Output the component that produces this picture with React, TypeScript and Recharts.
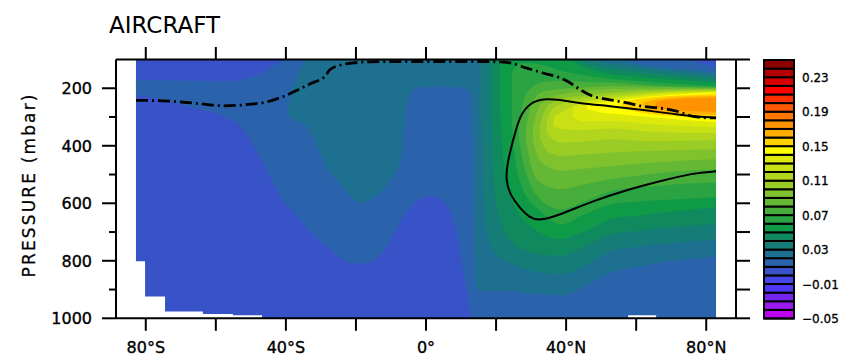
import React from 'react';
import { ComposedChart, Area, Line, XAxis, YAxis, ReferenceArea } from 'recharts';

// ---------- axis ticks ----------
const latTicks = [-80, -60, -40, -20, 0, 20, 40, 60, 80];
const latTickLabels = ['80°S', '', '40°S', '', '0°', '', '40°N', '', '80°N'];
const presTicksLeft = [200, 300, 400, 500, 600, 700, 800, 900, 1000];
const presTickLabels = ['200', '', '400', '', '600', '', '800', '', '1000'];
const presTicksRight = [100, 200, 300, 400, 500, 600, 700, 800, 900, 1000];

// ---------- colour bar ----------
const cbBounds = [-0.05, -0.04, -0.03, -0.02, -0.01, 0, 0.01, 0.02, 0.03, 0.04, 0.05, 0.06, 0.07, 0.08, 0.09, 0.1,
  0.11, 0.12, 0.13, 0.14, 0.15, 0.16, 0.17, 0.18, 0.19, 0.2, 0.21, 0.22, 0.23, 0.24, 0.25];
const cbColors = [
  '#BC00F0', '#9A1AF0', '#7426F0', '#4E38F5', '#4646EA',
  '#3853C8', '#2A63AC', '#1E7090', '#167C78', '#10895E',
  '#0F9A48', '#2AA443', '#48AE3B', '#64B834', '#80C22E',
  '#9ACC26', '#B2D61E', '#C8E014', '#DCE90A', '#FFFF00',
  '#FFD200', '#FFAE00', '#FF9200', '#FF7600', '#FF5800',
  '#FF3000', '#FF0000', '#D80000', '#B40000', '#8C0000',
];
const cbTicks = [-0.05, -0.01, 0.03, 0.07, 0.11, 0.15, 0.19, 0.23];
const cbTickLabels = ['\u22120.05', '\u22120.01', '0.03', '0.07', '0.11', '0.15', '0.19', '0.23'];

// ---------- contour bands: [lat, top pressure, bottom pressure] of region >= level ----------
const band00 = [[-82.8, 100, 1000], [82.8, 100, 1000]];
const band01 = [
  [-82.8, 170, 222], [-75, 172, 240], [-66.6, 174, 267], [-57, 176, 302], [-52, 169, 345],
  [-49.4, 160, 396], [-46, 142, 470], [-43, 118, 545], [-41, 104, 590], [-39, 100, 615],
  [-35, 100, 670], [-31.4, 100, 719], [-28.8, 100, 745], [-25, 100, 785], [-20, 100, 810],
  [-16, 100, 805], [-13, 100, 780], [-10.5, 100, 735], [-8, 100, 680], [-5.3, 100, 625],
  [-2.5, 100, 592], [0.5, 100, 575], [3, 100, 578], [5.5, 100, 600], [7.5, 100, 650],
  [9.2, 100, 730], [11, 100, 860], [12.3, 100, 960], [13, 100, 1000], [40, 100, 1000],
  [74, 100, 1000], [77, 107, 1000], [80, 119, 1000], [82.8, 128, 1000],
];
const band02 = [
  [-39.3, 270, 290], [-38.3, 208, 305], [-36.8, 163, 315], [-35.1, 117, 322], [-33.7, 100, 340],
  [-30, 100, 430], [-28.8, 100, 465], [-24.3, 100, 534], [-21, 100, 580], [-18.6, 100, 597],
  [-15, 100, 580], [-11, 100, 534], [-7.1, 100, 441], [-6.2, 100, 325], [-5.2, 100, 243],
  [-3.4, 100, 203], [0, 100, 195], [5, 100, 194], [10, 100, 197], [12.9, 100, 212],
  [13.4, 100, 350], [13.8, 100, 800], [14.5, 100, 900], [16, 100, 905], [24, 100, 905],
  [30, 100, 915], [38.6, 100, 920], [45, 100, 890], [53, 100, 840], [56, 102, 830],
  [61, 118, 820], [65, 125, 810], [70, 130, 800], [78, 138, 790], [82.8, 147, 785],
];
const band03 = [
  [15.8, 100, 300], [16.5, 100, 620], [17.2, 100, 700], [19, 100, 760], [22, 100, 795],
  [25, 100, 812], [30, 100, 835], [38.6, 100, 847], [45, 100, 820], [49, 105, 790],
  [53, 116, 765], [60, 128, 752], [67, 138, 742], [75, 148, 733], [82.8, 157, 725],
];
const band04 = [
  [18.5, 100, 250], [19.5, 100, 550], [21, 100, 650], [25, 100, 742], [30, 100, 770],
  [38.6, 100, 783], [42, 100, 770], [47, 118, 740], [53, 134, 708], [60, 143, 697],
  [67, 152, 688], [75, 161, 680], [82.8, 170, 672],
];
const band05 = [
  [21, 100, 250], [22.5, 100, 500], [25, 100, 600], [30, 100, 680], [38.6, 100, 725],
  [42, 108, 712], [45, 125, 700], [53, 151, 655], [60, 159, 643], [67, 167, 633],
  [75, 174, 623], [82.8, 181, 613],
];
const band06 = [
  [24.5, 150, 320], [25.5, 125, 450], [28, 112, 560], [33, 118, 630], [38.6, 139, 673],
  [45, 155, 640], [53, 168, 603], [60, 175, 595], [67, 181, 589], [75, 187, 584], [82.8, 193, 578],
];
const band07 = [
  [26.5, 330, 370], [28, 240, 470], [30, 200, 540], [33, 180, 590], [38.6, 174, 621],
  [45, 177, 595], [53, 180, 557], [65, 190, 540], [82.8, 196, 527],
];
const band08 = [
  [28.5, 340, 380], [30, 260, 470], [33, 215, 530], [38.6, 203, 551], [45, 197, 535],
  [53, 192, 516], [65, 195, 497], [82.8, 199, 482],
];
const band09 = [
  [30.5, 340, 380], [32, 270, 440], [35, 235, 475], [38.6, 221, 487], [45, 210, 480],
  [53, 203, 470], [65, 202, 458], [82.8, 202, 447],
];
const band10 = [
  [32.5, 330, 370], [34, 275, 410], [36, 250, 428], [38.6, 238, 435], [45, 225, 430],
  [53, 215, 423], [65, 208, 418], [82.8, 204, 412],
];
const band11 = [
  [34.5, 310, 350], [36, 275, 375], [38.6, 255, 389], [45, 235, 385], [53, 223, 377],
  [65, 213, 384], [82.8, 207, 381],
];
const band12 = [
  [36.5, 300, 330], [38.6, 284, 342], [45, 245, 345], [53, 232, 340], [65, 218, 352], [82.8, 210, 356],
];
const band13 = [[42, 268, 302], [45, 252, 315], [53, 238, 315], [65, 221, 326], [82.8, 211, 336]];
const band14 = [[46, 258, 272], [50, 250, 284], [53, 245, 288], [65, 228, 302], [82.8, 214, 318]];
const band15 = [[56, 250, 268], [60, 238, 282], [65, 231, 291], [75, 224, 298], [82.8, 221, 302]];
const band16 = [[62, 250, 266], [65, 240, 278], [70, 233, 285], [82.8, 227, 292]];
const band17 = [[65.5, 250, 264], [68, 242, 272], [75, 235, 279], [82.8, 233, 282]];

const bands = [band00, band01, band02, band03, band04, band05, band06, band07, band08, band09,
  band10, band11, band12, band13, band14, band15, band16, band17];
const bandColors = cbColors.slice(5);

// ---------- missing data (topography): [lat, pressure of ground] ----------
const topoSouth = [[-83.5, 802], [-80.2, 924], [-74.5, 976], [-63.7, 985], [-55.1, 989.5], [-46.8, 1000]];
const topoNorth = [[57.7, 989], [65.7, 1000]];

// ---------- contour lines: [lat, pressure] ----------
const dashDotLine = [
  [-82.8, 242], [-76.5, 243], [-66.9, 251], [-57.4, 261], [-49.8, 255], [-46, 249], [-41.2, 231],
  [-36.5, 205], [-32.6, 182], [-28.8, 158], [-27.4, 135], [-24.6, 120], [-20.8, 112], [-16, 108],
  [0, 107], [15, 107], [22, 109], [24, 112], [28.8, 130], [33.4, 147], [38.3, 164], [41.1, 181],
  [44, 205], [47.7, 228], [52.5, 240], [57.4, 251], [62, 263], [66.8, 269], [71.6, 280],
  [76.2, 298], [81.1, 303], [82.8, 303],
];
const solidLine = [
  [82.8, 303], [71.6, 292], [62, 275], [52.5, 262], [43.1, 251], [38.3, 240], [33.4, 236],
  [29.7, 251], [26.8, 293], [24.8, 383], [23.1, 467], [22.8, 519], [24, 571], [26.8, 617],
  [29.7, 651], [32.5, 661], [38.3, 640], [47.7, 592], [57.4, 553], [66.8, 523], [76.2, 495], [82.8, 489],
];

const FONT = 'DejaVu Sans';

const toRange = (rows: number[][]) => rows.map(([lat, top, bot]) => ({ lat, r: [top, bot] }));
const toTopo = (rows: number[][]) => rows.map(([lat, p]) => ({ lat, r: [p, 1000] }));
const toLine = (rows: number[][]) => rows.map(([lat, p]) => ({ lat, p }));

const txt = { fontFamily: FONT, fill: '#000', stroke: '#000', strokeWidth: 0.35 };

const BottomTick = (props: any) => {
  const { x, y, payload } = props;
  const label = latTickLabels[latTicks.indexOf(payload.value)];
  return (
    <g>
      <line x1={x} y1={y} x2={x} y2={y + 12.5} stroke="#000" strokeWidth={2} />
      {label ? (
        <text x={x} y={y + 34.5} textAnchor="middle" fontSize={16} {...txt}>{label}</text>
      ) : null}
    </g>
  );
};
const TopTick = (props: any) => {
  const { x, y } = props;
  return <line x1={x} y1={y} x2={x} y2={y - 12.5} stroke="#000" strokeWidth={2} />;
};
const LeftTick = (props: any) => {
  const { x, y, payload } = props;
  const label = presTickLabels[presTicksLeft.indexOf(payload.value)];
  const len = label ? 14 : 7;
  return (
    <g>
      <line x1={x} y1={y} x2={x - len} y2={y} stroke="#000" strokeWidth={2} />
      {label ? (
        <text x={x - 24} y={y + 5.8} textAnchor="end" fontSize={16} {...txt}>{label}</text>
      ) : null}
    </g>
  );
};
const RightTick = (props: any) => {
  const { x, y } = props;
  return <line x1={x} y1={y} x2={x + 14} y2={y} stroke="#000" strokeWidth={2} />;
};
const CbTick = (props: any) => {
  const { x, y, payload } = props;
  const label = cbTickLabels[cbTicks.indexOf(payload.value)];
  return (
    <text x={x + 8} y={y + 4.5} textAnchor="start" fontSize={12} {...txt} strokeWidth={0.3}>{label}</text>
  );
};

const frame = { stroke: '#000', strokeWidth: 2 };

export default function App() {
  return (
    <div style={{ position: 'absolute', left: 0, top: 0, width: 854, height: 357, background: '#fff', overflow: 'hidden' }}>
      <div style={{ position: 'absolute', left: 0, top: 0 }}>
        <ComposedChart width={854} height={357} margin={{ top: 39.5, right: 98, bottom: 8.7, left: 16 }}>
          {bands.map((rows, i) => (
            <Area
              key={'b' + i}
              data={toRange(rows)}
              dataKey="r"
              type={i === 0 ? 'linear' : 'monotone'}
              fill={bandColors[i]}
              fillOpacity={1}
              stroke="none"
              dot={false}
              activeDot={false}
              isAnimationActive={false}
            />
          ))}
          <Area data={toTopo(topoSouth)} dataKey="r" type="stepAfter" fill="#fff" fillOpacity={1} stroke="none"
            dot={false} activeDot={false} isAnimationActive={false} />
          <Area data={toTopo(topoNorth)} dataKey="r" type="stepAfter" fill="#fff" fillOpacity={1} stroke="none"
            dot={false} activeDot={false} isAnimationActive={false} />
          <Line data={toLine(dashDotLine)} dataKey="p" type="monotone" stroke="#000" strokeWidth={2.8}
            strokeDasharray="12 4 2 4" dot={false} activeDot={false} isAnimationActive={false} />
          <Line data={toLine(solidLine)} dataKey="p" type="basis" stroke="#000" strokeWidth={2}
            dot={false} activeDot={false} isAnimationActive={false} />
          <XAxis type="number" dataKey="lat" domain={[-88.5, 88.5]} ticks={latTicks} interval={0}
            height={30} axisLine={frame} tickLine={false} tickSize={0} tickMargin={0} tick={BottomTick} allowDataOverflow />
          <XAxis xAxisId="top" orientation="top" type="number" dataKey="lat" domain={[-88.5, 88.5]} ticks={latTicks}
            interval={0} height={20} axisLine={frame} tickLine={false} tickSize={0} tickMargin={0} tick={TopTick} allowDataOverflow />
          <YAxis type="number" domain={[100, 1000]} reversed ticks={presTicksLeft} interval={0} width={100}
            axisLine={frame} tickLine={false} tickSize={0} tickMargin={0} tick={LeftTick} allowDataOverflow />
          <YAxis yAxisId="right" orientation="right" type="number" domain={[100, 1000]} reversed ticks={presTicksRight}
            interval={0} width={20} axisLine={frame} tickLine={false} tickSize={0} tickMargin={0} tick={RightTick} allowDataOverflow />
        </ComposedChart>
      </div>
      <div style={{ position: 'absolute', left: 750, top: 0 }}>
        <ComposedChart width={100} height={357} margin={{ top: 60, right: 6, bottom: 38.5, left: 14 }}>
          {cbColors.map((c, i) => (
            <Area
              key={'cb' + i}
              data={[{ x: 0, r: [cbBounds[i], cbBounds[i + 1]] }, { x: 1, r: [cbBounds[i], cbBounds[i + 1]] }]}
              dataKey="r"
              type="linear"
              fill={c}
              fillOpacity={1}
              stroke="#000"
              strokeWidth={2}
              dot={false}
              activeDot={false}
              isAnimationActive={false}
            />
          ))}
          <ReferenceArea x1={0} x2={1} y1={-0.05} y2={0.25} fill="none" stroke="#000" strokeWidth={2} ifOverflow="visible" />
          <XAxis type="number" dataKey="x" domain={[0, 1]} hide />
          <YAxis type="number" orientation="right" domain={[-0.05, 0.25]} ticks={cbTicks} interval={0} width={50}
            axisLine={false} tickLine={false} tickSize={0} tickMargin={0} tick={CbTick} />
        </ComposedChart>
      </div>
      <svg width={854} height={357} style={{ position: 'absolute', left: 0, top: 0, pointerEvents: 'none' }}>
        <text x={109} y={33} fontFamily={FONT} fontSize={23} fill="#000">AIRCRAFT</text>
        <text transform="translate(35,186) rotate(-90)" textAnchor="middle" fontFamily={FONT} fontSize={17}
          fill="#000" stroke="#000" strokeWidth={0.25} textLength={183} lengthAdjust="spacing">PRESSURE (mbar)</text>
      </svg>
    </div>
  );
}
